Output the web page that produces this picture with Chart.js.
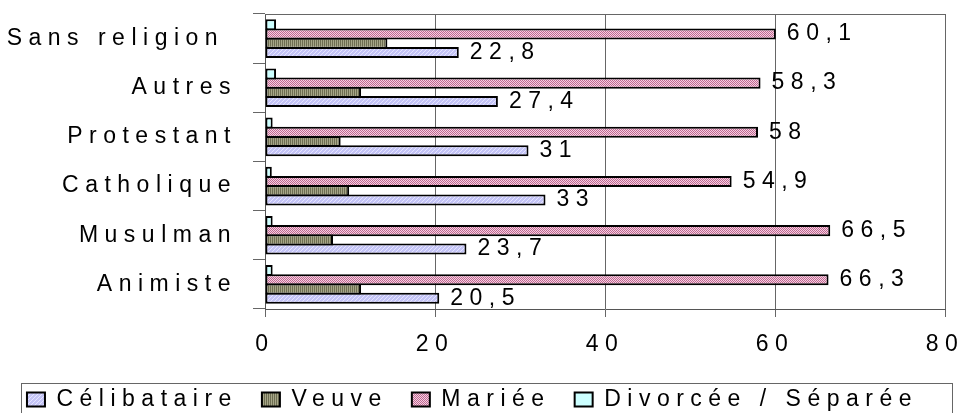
<!DOCTYPE html>
<html>
<head>
<meta charset="utf-8">
<script src="https://cdn.jsdelivr.net/npm/chart.js@4/dist/chart.umd.min.js"></script>
<style>
  html, body { margin: 0; padding: 0; background: #fff; }
  #wrap { width: 959px; height: 413px; overflow: hidden; position: relative; }
</style>
</head>
<body>
<div id="wrap"><canvas id="graphique" width="959" height="421"></canvas></div>
<script>
// donnees (en %)
var categories = ['Sans religion ', 'Autres', 'Protestant', 'Catholique', 'Musulman', 'Animiste'];
var celibataire = [22.8, 27.4, 31, 33, 23.7, 20.5];
var veuve = [14.4, 11.3, 8.9, 9.9, 8.0, 11.3];
var mariee = [60.1, 58.3, 58, 54.9, 66.5, 66.3];
var divorcee = [1.3, 1.3, 0.9, 0.8, 0.9, 0.9];
var ticksX = [0, 20, 40, 60, 80];

var espacement = '6.5px';
var police = '"Liberation Sans", Arial, sans-serif';
var ecartLegende = 24;

// motifs de remplissage
function motif(w, h, dessin) {
    var c = document.createElement('canvas');
    c.width = w;
    c.height = h;
    var x = c.getContext('2d');
    dessin(x);
    return x.createPattern(c, 'repeat');
}
var motifCelib = motif(4, 4, function(x){
    x.fillStyle = '#c4c4f6';
    x.fillRect(0, 0, 4, 4);
    x.fillStyle = '#e6e6ff';
    for (var i = 0; i < 4; i++) x.fillRect(i, 3 - i, 1, 1);
});
var motifVeuve = motif(2, 1, function(x){
    x.fillStyle = '#6e6e52';
    x.fillRect(0, 0, 1, 1);
    x.fillStyle = '#a6a688';
    x.fillRect(1, 0, 1, 1);
});
var motifMariee = motif(2, 2, function(x){
    x.fillStyle = '#f4d0e2';
    x.fillRect(0, 0, 2, 2);
    x.fillStyle = '#c06890';
    x.fillRect(0, 0, 1, 1);
    x.fillRect(1, 1, 1, 1);
});

// espacement des lettres comme sur l'original
var pluginEspacement = {
    id: 'espacement',
    beforeLayout: function(chart){ chart.ctx.letterSpacing = espacement; },
    beforeDraw: function(chart){ chart.ctx.letterSpacing = espacement; }
};

// valeurs au bout des barres
var pluginValeurs = {
    id: 'valeurs',
    afterDatasetsDraw: function(chart){
        var ctx = chart.ctx;
        ctx.save();
        ctx.letterSpacing = espacement;
        ctx.font = '23px ' + police;
        ctx.fillStyle = '#000';
        ctx.textAlign = 'left';
        ctx.textBaseline = 'middle';
        chart.data.datasets.forEach(function(ds, i){
            if (!ds.afficherValeur) return;
            chart.getDatasetMeta(i).data.forEach(function(barre, j){
                ctx.fillText(String(ds.data[j]).replace('.', ','), barre.x + 11, barre.y);
            });
        });
        ctx.restore();
    }
};

// cadre de la zone de tracé et de la légende
var pluginCadres = {
    id: 'cadres',
    afterDraw: function(chart){
        var ctx = chart.ctx;
        var a = chart.chartArea;
        ctx.save();
        ctx.strokeStyle = '#666';
        ctx.lineWidth = 1;
        ctx.beginPath();
        ctx.moveTo(a.left, Math.round(a.top) + 0.5);
        ctx.lineTo(a.right, Math.round(a.top) + 0.5);
        ctx.stroke();
        ctx.strokeRect(21.5, Math.round(chart.legend.top + ecartLegende - 5) + 0.5, chart.width - 28, 100);
        ctx.restore();
    }
};

Chart.defaults.font.family = police;
Chart.defaults.font.size = 23;
Chart.defaults.color = '#000';

new Chart(document.getElementById('graphique'), {
    type: 'bar',
    data: {
        labels: categories,
        datasets: [
            { label: 'Divorcée / Séparée', data: divorcee, backgroundColor: '#ccffff' },
            { label: 'Mariée', data: mariee, backgroundColor: motifMariee, afficherValeur: true },
            { label: 'Veuve', data: veuve, backgroundColor: motifVeuve },
            { label: 'Célibataire', data: celibataire, backgroundColor: motifCelib, afficherValeur: true }
        ]
    },
    options: {
        indexAxis: 'y',
        responsive: false,
        animation: false,
        devicePixelRatio: 1,
        layout: { padding: { top: 14, right: 14, left: 0, bottom: 0 } },
        datasets: {
            bar: {
                borderColor: '#000',
                borderWidth: 2,
                borderSkipped: false,
                categoryPercentage: 0.75,
                barPercentage: 1.2
            }
        },
        scales: {
            x: {
                min: 0,
                max: 80,
                afterBuildTicks: function(s){ s.ticks = ticksX.map(function(v){ return { value: v }; }); },
                afterFit: function(s){ s.paddingRight = 0; s.paddingLeft = 0; s.height = 55; },
                ticks: { padding: 14, color: '#000' },
                grid: { color: '#666', tickLength: 8 },
                border: { color: '#555' }
            },
            y: {
                afterFit: function(s){ s.width = 265; s.paddingTop = 0; s.paddingBottom = 0; },
                ticks: { padding: 16, color: '#000' },
                grid: { drawOnChartArea: false, color: '#666', tickLength: 12 },
                border: { color: '#555' }
            }
        },
        plugins: {
            tooltip: { enabled: false },
            legend: {
                position: 'bottom',
                reverse: true,
                labels: {
                    boxWidth: 18,
                    boxHeight: 14,
                    padding: ecartLegende,
                    color: '#000',
                    font: { size: 23 }
                }
            }
        }
    },
    plugins: [pluginEspacement, pluginValeurs, pluginCadres]
});
</script>
</body>
</html>
